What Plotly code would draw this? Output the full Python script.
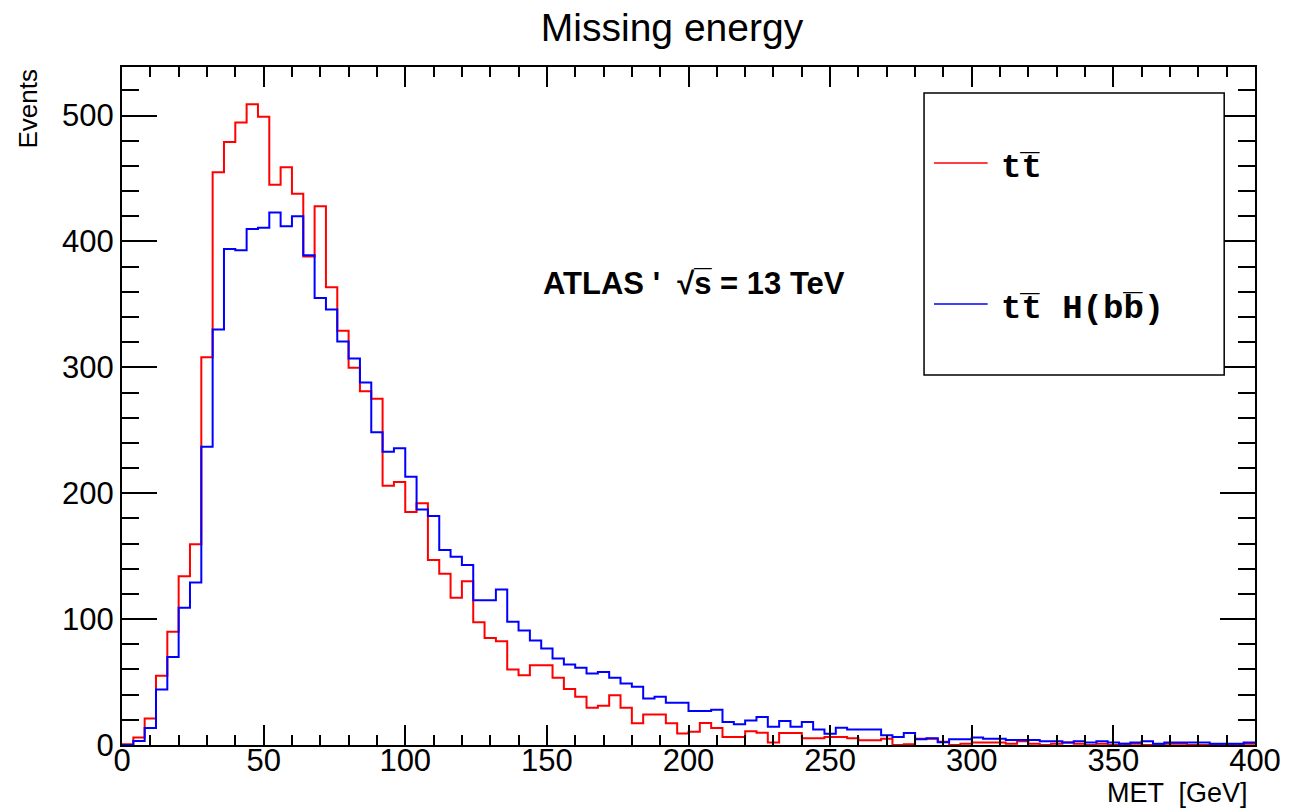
import numpy as np
import plotly.graph_objects as go

# ---------------- data ----------------
BIN_WIDTH = 4.0
X_MIN, X_MAX = 0.0, 400.0

tt_values = [
    0.5, 6, 21, 55, 90, 134, 159.5, 308, 455, 479,
    494.5, 509, 499, 445, 459, 438, 388, 428, 363.6, 329,
    299.7, 281, 275, 206, 209, 185, 192, 147, 136, 117,
    130, 97.5, 85, 82.4, 60, 55.5, 63.4, 63.4, 53.4, 44.4,
    38.3, 29.6, 31.2, 39.6, 29.6, 17.2, 24.3, 24.3, 17.2, 9.2,
    10.6, 17.5, 13.5, 6.3, 6.3, 11, 9.8, 2, 9.5, 9.5,
    5.3, 5.3, 6.3, 6.3, 5.3, 3.7, 3.7, 5, 0, 0.5,
    5, 5, 2.5, 0, 1, 2, 2, 2, 1, 3,
    1, 0, 1, 2, 1, 0, 1, 0, 1, 1,
    0, 0, 1, 1, 0, 0, 0, 0, 0, 1,
]

tth_values = [
    0, 3.2, 13.5, 44, 70, 109, 129, 237, 330, 394,
    393, 410, 411, 423, 412, 420, 389, 355, 346, 320.6,
    307, 288, 248.5, 233, 235.7, 213, 187, 182, 155, 149.5,
    143, 115, 115, 123.6, 98, 91, 83, 76.6, 68.7, 64,
    61.3, 56.8, 58, 53.4, 48.9, 46.2, 37, 38.3, 33.5, 33.5,
    27, 27, 28, 18.2, 16.4, 19.5, 22.2, 14.5, 19, 14.5,
    18.2, 12.4, 9, 13.7, 12.4, 12.4, 12.4, 7.7, 6.3, 9.5,
    4.5, 5.3, 2.1, 4.5, 4.5, 6, 5, 5, 4, 4,
    4, 3, 3, 2, 3, 2, 3, 2, 1, 2,
    3, 1, 2, 2, 2, 2, 1, 1, 1, 2,
]

x_tick_vals = [0, 50, 100, 150, 200, 250, 300, 350, 400]
y_tick_vals = [0, 100, 200, 300, 400, 500]

title_text = "Missing energy"
x_title = "MET  [GeV]"
y_title = "Events"
atlas_text = "<b>ATLAS '  √s\u0305 = 13 TeV</b>"
legend_labels = ["tt\u0305", "tt\u0305 H(bb\u0305)"]
colors = ["#ff0000", "#0000ff"]

assert len(tt_values) == 100 and len(tth_values) == 100

edges = np.arange(X_MIN, X_MAX + BIN_WIDTH / 2, BIN_WIDTH)

# ---------------- layout geometry (pixels) ----------------
W, H = 1293, 812
PL, PR, PT, PB = 122, 1262, 67, 745
Y_MAX = 538.6


def px(x):
    return (x - PL) / (PR - PL)


def py(y):
    return (PB - y) / (PB - PT)


fig = go.Figure()
for vals, col in zip([tt_values, tth_values], colors):
    fig.add_trace(go.Scatter(
        x=edges,
        y=list(vals) + [vals[-1]],
        mode="lines",
        line=dict(color=col, width=2, shape="hv"),
        showlegend=False,
        hoverinfo="skip",
    ))

font_main = "Liberation Sans, Arial, Helvetica, sans-serif"
font_mono = "Liberation Mono, Courier New, monospace"

fig.update_layout(
    width=W, height=H,
    margin=dict(l=PL, r=W - PR, t=PT, b=H - PB, pad=0),
    paper_bgcolor="white",
    plot_bgcolor="white",
    font=dict(family=font_main, color="black"),
    title=dict(text=title_text, x=672 / W, xanchor="center",
               y=1 - 27 / H, yanchor="middle", yref="container",
               font=dict(size=39, family=font_main, color="black")),
)

fig.update_xaxes(
    range=[X_MIN, X_MAX],
    tickvals=x_tick_vals,
    ticks="inside", ticklen=20, tickwidth=2, tickcolor="black",
    minor=dict(dtick=10, ticks="inside", ticklen=10, tickwidth=1.5, tickcolor="black"),
    showline=True, linewidth=2, linecolor="black", mirror="ticks",
    showgrid=False, zeroline=False,
    ticklabelstandoff=-13,
    tickfont=dict(size=31, family=font_main, color="black"),
)
fig.update_yaxes(
    range=[0, Y_MAX],
    tickvals=y_tick_vals,
    ticks="inside", ticklen=35, tickwidth=2, tickcolor="black",
    minor=dict(dtick=20, ticks="inside", ticklen=17, tickwidth=1.5, tickcolor="black"),
    showline=True, linewidth=2, linecolor="black", mirror="ticks",
    showgrid=False, zeroline=False,
    tickfont=dict(size=31, family=font_main, color="black"),
)

annotations = [
    dict(text=x_title, xref="paper", yref="paper", x=px(1257), y=py(793),
         xanchor="right", yanchor="middle", showarrow=False,
         font=dict(size=27, family=font_main, color="black")),
    dict(text=y_title, xref="paper", yref="paper", x=px(27), y=py(67),
         xanchor="center", yanchor="top", textangle=-90, showarrow=False,
         font=dict(size=26, family=font_main, color="black")),
    dict(text=atlas_text, xref="paper", yref="paper", x=px(698), y=py(283),
         xanchor="center", yanchor="middle", showarrow=False,
         font=dict(size=31, family=font_main, color="black")),
]

legend_rows_y = [163, 304]
legend_text_y = [168, 309]
shapes = [
    dict(type="rect", xref="paper", yref="paper",
         x0=px(929), x1=px(1231), y0=py(375), y1=py(93),
         line=dict(color="black", width=1.5), fillcolor="white", layer="above"),
]
for lab, col, ly, ty in zip(legend_labels, colors, legend_rows_y, legend_text_y):
    shapes.append(dict(type="line", xref="paper", yref="paper",
                       x0=px(939), x1=px(993), y0=py(ly), y1=py(ly),
                       line=dict(color=col, width=1.5), layer="above"))
    annotations.append(dict(text="<b>" + lab + "</b>", xref="paper", yref="paper",
                            x=px(1004), y=py(ty), xanchor="left", yanchor="middle",
                            showarrow=False,
                            font=dict(size=34, family=font_mono, color="black")))

fig.update_layout(annotations=annotations, shapes=shapes)

fig.write_html("out.html")
